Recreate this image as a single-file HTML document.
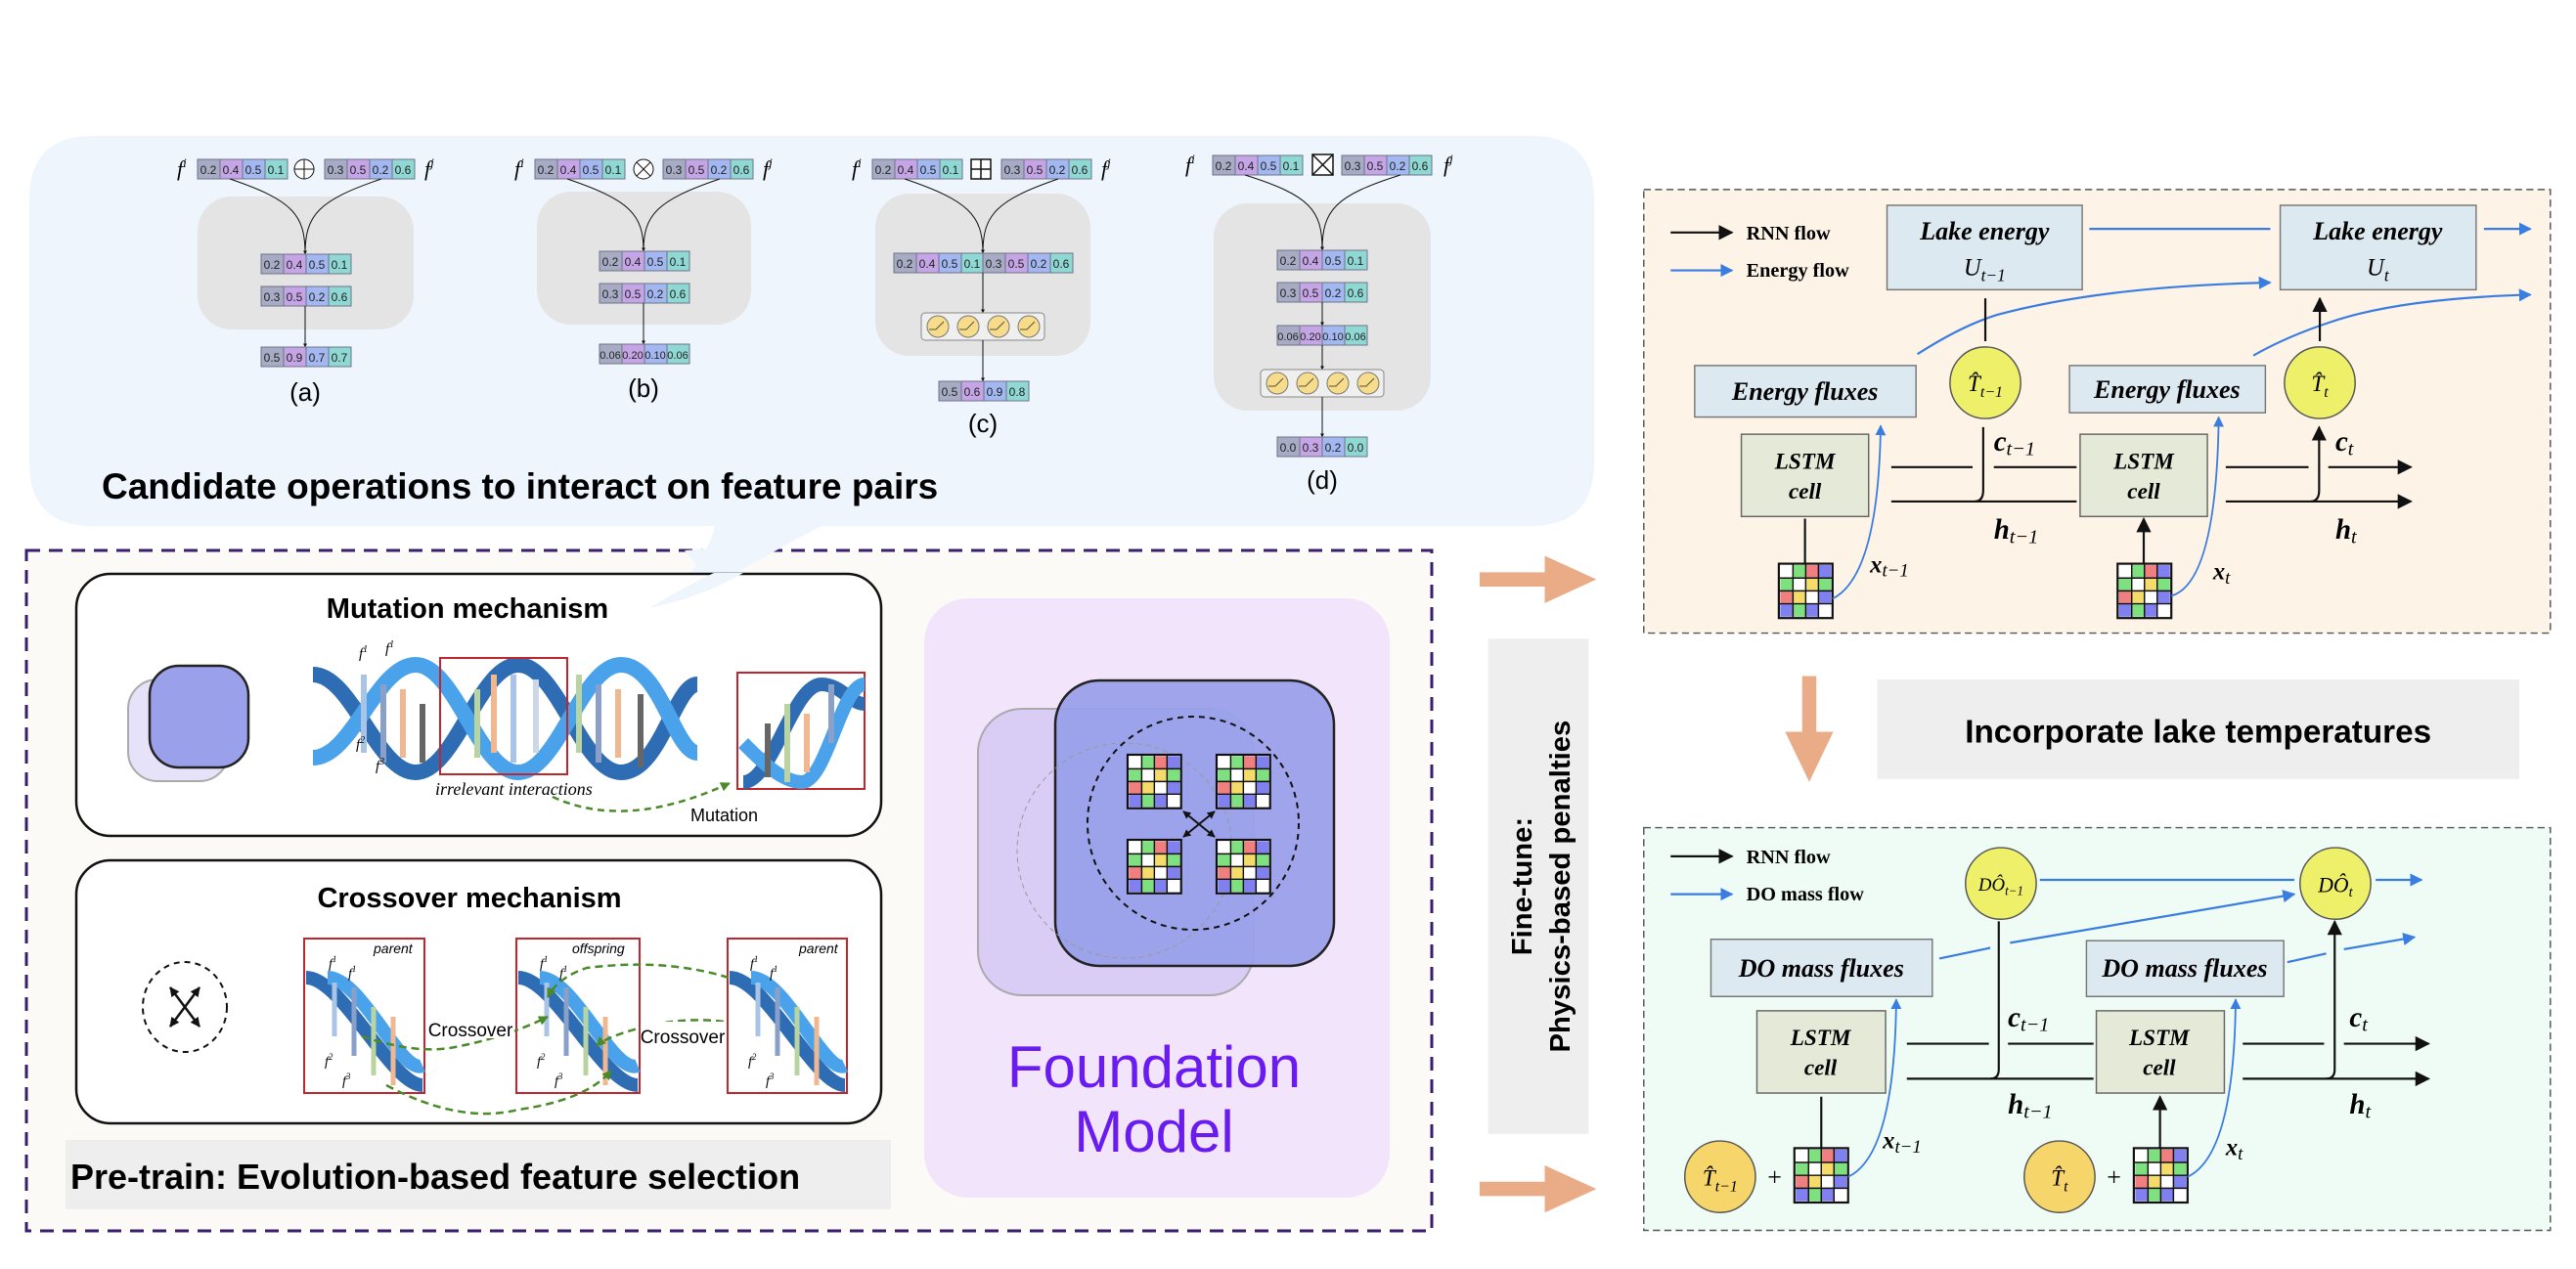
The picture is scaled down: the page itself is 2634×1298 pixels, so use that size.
<!DOCTYPE html>
<html><head><meta charset="utf-8"><style>
html,body{margin:0;padding:0;background:#fff}
svg{display:block}
.n{font-family:"Liberation Sans",sans-serif;font-size:12px;text-anchor:middle;fill:#222}
.s{font-family:"Liberation Serif",serif;font-style:italic}
.b{font-family:"Liberation Sans",sans-serif;font-weight:bold}
.sb{font-family:"Liberation Serif",serif;font-weight:bold;font-style:italic}
</style></head><body>
<svg width="2634" height="1298" viewBox="0 0 2634 1298" xmlns="http://www.w3.org/2000/svg">
<defs>
<g id="v4">
<rect x="0" y="0" width="23" height="20" fill="#a7abc3" stroke="#6f7388"/>
<rect x="23" y="0" width="23" height="20" fill="#c5a5e5" stroke="#6f7388"/>
<rect x="46" y="0" width="23" height="20" fill="#a3b7f0" stroke="#6f7388"/>
<rect x="69" y="0" width="23" height="20" fill="#8fd8d3" stroke="#6f7388"/>
</g>
<g id="act">
<rect x="0" y="0" width="126" height="28" rx="4" fill="#efefef" stroke="#888"/>
<g fill="#f7dc8c" stroke="#777"><circle cx="17" cy="14" r="11"/><circle cx="48" cy="14" r="11"/><circle cx="79" cy="14" r="11"/><circle cx="110" cy="14" r="11"/></g>
<g fill="none" stroke="#553"><path d="M8,17 h7 l8,-8"/><path d="M39,17 h7 l8,-8"/><path d="M70,17 h7 l8,-8"/><path d="M101,17 h7 l8,-8"/></g>
</g>
<g id="grid">
<rect x="0" y="0" width="76" height="76" fill="#fff" stroke="#111" stroke-width="3"/>
<rect x="2" y="2" width="18" height="18" fill="#fff"/><rect x="20" y="2" width="18" height="18" fill="#7ee07e"/><rect x="38" y="2" width="18" height="18" fill="#f08080"/><rect x="56" y="2" width="18" height="18" fill="#8080f0"/>
<rect x="2" y="20" width="18" height="18" fill="#7ee07e"/><rect x="20" y="20" width="18" height="18" fill="#fff"/><rect x="38" y="20" width="18" height="18" fill="#f5dc6a"/><rect x="56" y="20" width="18" height="18" fill="#7ee07e"/>
<rect x="2" y="38" width="18" height="18" fill="#f08080"/><rect x="20" y="38" width="18" height="18" fill="#f5dc6a"/><rect x="38" y="38" width="18" height="18" fill="#fff"/><rect x="56" y="38" width="18" height="18" fill="#8080f0"/>
<rect x="2" y="56" width="18" height="18" fill="#8080f0"/><rect x="20" y="56" width="18" height="18" fill="#7ee07e"/><rect x="38" y="56" width="18" height="18" fill="#8080f0"/><rect x="56" y="56" width="18" height="18" fill="#fff"/>
<path d="M20,0V76M38,0V76M56,0V76M0,20H76M0,38H76M0,56H76" stroke="#111" stroke-width="2"/>
</g>
<marker id="ak" viewBox="0 0 10 10" refX="9" refY="5" markerWidth="7" markerHeight="7" orient="auto"><path d="M0,0L10,5L0,10z" fill="#111"/></marker>
<marker id="as" viewBox="0 0 10 10" refX="9" refY="5" markerWidth="4" markerHeight="4" orient="auto-start-reverse"><path d="M0,0L10,5L0,10z" fill="#111"/></marker>
<marker id="ab" viewBox="0 0 10 10" refX="9" refY="5" markerWidth="6" markerHeight="6" orient="auto"><path d="M0,0L10,5L0,10z" fill="#3a7de0"/></marker>
<marker id="ag" viewBox="0 0 10 10" refX="9" refY="5" markerWidth="4" markerHeight="4" orient="auto"><path d="M0,0L10,5L0,10z" fill="#4a8a2a"/></marker>
</defs>

<path d="M95,139 H1565 Q1630,139 1630,204 V473 Q1630,538 1565,538 H840 Q760,580 664,622 Q720,585 731,538 H95 Q30,538 30,473 V204 Q30,139 95,139 Z" fill="#eef5fd"/>

<!-- (a) -->
<rect x="202" y="201" width="221" height="136" rx="35" fill="#e4e4e4"/>
<text x="181" y="180" class="s" font-size="22">f<tspan font-size="13" dy="-9">i</tspan></text>
<use href="#v4" x="202" y="163"/><g class="n"><text x="213" y="178">0.2</text><text x="236" y="178">0.4</text><text x="259" y="178">0.5</text><text x="282" y="178">0.1</text></g>
<circle cx="311" cy="173" r="10" fill="#fff" stroke="#111"/><path d="M301,173H321M311,163V183" stroke="#111"/>
<use href="#v4" x="332" y="163"/><g class="n"><text x="343" y="178">0.3</text><text x="366" y="178">0.5</text><text x="389" y="178">0.2</text><text x="412" y="178">0.6</text></g>
<text x="434" y="180" class="s" font-size="22">f<tspan font-size="13" dy="-9">j</tspan></text>
<path d="M235,183 C300,205 312,220 312,260 M390,183 C325,205 312,220 312,260" fill="none" stroke="#111" marker-end="url(#as)"/>
<use href="#v4" x="267" y="260"/><g class="n"><text x="278" y="275">0.2</text><text x="301" y="275">0.4</text><text x="324" y="275">0.5</text><text x="347" y="275">0.1</text></g>
<use href="#v4" x="267" y="293"/><g class="n"><text x="278" y="308">0.3</text><text x="301" y="308">0.5</text><text x="324" y="308">0.2</text><text x="347" y="308">0.6</text></g>
<path d="M312,313V355" stroke="#111" marker-end="url(#as)"/>
<use href="#v4" x="267" y="355"/><g class="n"><text x="278" y="370">0.5</text><text x="301" y="370">0.9</text><text x="324" y="370">0.7</text><text x="347" y="370">0.7</text></g>
<text x="312" y="410" font-family="Liberation Sans,sans-serif" font-size="26" text-anchor="middle">(a)</text>

<!-- (b) -->
<rect x="549" y="196" width="219" height="136" rx="35" fill="#e4e4e4"/>
<text x="526" y="180" class="s" font-size="22">f<tspan font-size="13" dy="-9">i</tspan></text>
<use href="#v4" x="547" y="163"/><g class="n"><text x="558" y="178">0.2</text><text x="581" y="178">0.4</text><text x="604" y="178">0.5</text><text x="627" y="178">0.1</text></g>
<circle cx="658" cy="173" r="10" fill="#fff" stroke="#111"/><path d="M651,166L665,180M665,166L651,180" stroke="#111"/>
<use href="#v4" x="678" y="163"/><g class="n"><text x="689" y="178">0.3</text><text x="712" y="178">0.5</text><text x="735" y="178">0.2</text><text x="758" y="178">0.6</text></g>
<text x="780" y="180" class="s" font-size="22">f<tspan font-size="13" dy="-9">j</tspan></text>
<path d="M580,183 C645,205 658,220 658,257 M736,183 C671,205 658,220 658,257" fill="none" stroke="#111" marker-end="url(#as)"/>
<use href="#v4" x="613" y="257"/><g class="n"><text x="624" y="272">0.2</text><text x="647" y="272">0.4</text><text x="670" y="272">0.5</text><text x="693" y="272">0.1</text></g>
<use href="#v4" x="613" y="290"/><g class="n"><text x="624" y="305">0.3</text><text x="647" y="305">0.5</text><text x="670" y="305">0.2</text><text x="693" y="305">0.6</text></g>
<path d="M658,310V352" stroke="#111" marker-end="url(#as)"/>
<use href="#v4" x="613" y="352"/><g class="n"><text x="624" y="367" font-size="11">0.06</text><text x="647" y="367" font-size="11">0.20</text><text x="670" y="367" font-size="11">0.10</text><text x="693" y="367" font-size="11">0.06</text></g>
<text x="658" y="406" font-family="Liberation Sans,sans-serif" font-size="26" text-anchor="middle">(b)</text>

<!-- (c) -->
<rect x="895" y="198" width="220" height="166" rx="35" fill="#e4e4e4"/>
<text x="871" y="180" class="s" font-size="22">f<tspan font-size="13" dy="-9">i</tspan></text>
<use href="#v4" x="892" y="163"/><g class="n"><text x="903" y="178">0.2</text><text x="926" y="178">0.4</text><text x="949" y="178">0.5</text><text x="972" y="178">0.1</text></g>
<rect x="993" y="163" width="20" height="20" fill="#fff" stroke="#111" stroke-width="1.5"/><path d="M993,173H1013M1003,163V183" stroke="#111" stroke-width="1.5"/>
<use href="#v4" x="1024" y="163"/><g class="n"><text x="1035" y="178">0.3</text><text x="1058" y="178">0.5</text><text x="1081" y="178">0.2</text><text x="1104" y="178">0.6</text></g>
<text x="1126" y="180" class="s" font-size="22">f<tspan font-size="13" dy="-9">j</tspan></text>
<path d="M925,183 C990,205 1005,220 1005,259 M1082,183 C1018,205 1005,220 1005,259" fill="none" stroke="#111" marker-end="url(#as)"/>
<use href="#v4" x="914" y="259"/><use href="#v4" x="1005" y="259"/>
<g class="n"><text x="925" y="274">0.2</text><text x="948" y="274">0.4</text><text x="971" y="274">0.5</text><text x="994" y="274">0.1</text><text x="1016" y="274">0.3</text><text x="1039" y="274">0.5</text><text x="1062" y="274">0.2</text><text x="1085" y="274">0.6</text></g>
<path d="M1005,279V320" stroke="#111" marker-end="url(#as)"/>
<use href="#act" x="942" y="320"/>
<path d="M1005,348V390" stroke="#111" marker-end="url(#as)"/>
<use href="#v4" x="960" y="390"/><g class="n"><text x="971" y="405">0.5</text><text x="994" y="405">0.6</text><text x="1017" y="405">0.9</text><text x="1040" y="405">0.8</text></g>
<text x="1005" y="442" font-family="Liberation Sans,sans-serif" font-size="26" text-anchor="middle">(c)</text>

<!-- (d) -->
<rect x="1241" y="208" width="222" height="212" rx="35" fill="#e4e4e4"/>
<text x="1212" y="176" class="s" font-size="22">f<tspan font-size="13" dy="-9">i</tspan></text>
<use href="#v4" x="1240" y="159"/><g class="n"><text x="1251" y="174">0.2</text><text x="1274" y="174">0.4</text><text x="1297" y="174">0.5</text><text x="1320" y="174">0.1</text></g>
<rect x="1342" y="158" width="21" height="21" fill="#fff" stroke="#111" stroke-width="1.5"/><path d="M1342,158L1363,179M1363,158L1342,179" stroke="#111" stroke-width="1.5"/>
<use href="#v4" x="1372" y="159"/><g class="n"><text x="1383" y="174">0.3</text><text x="1406" y="174">0.5</text><text x="1429" y="174">0.2</text><text x="1452" y="174">0.6</text></g>
<text x="1476" y="176" class="s" font-size="22">f<tspan font-size="13" dy="-9">j</tspan></text>
<path d="M1273,179 C1340,200 1352,215 1352,256 M1432,179 C1365,200 1352,215 1352,256" fill="none" stroke="#111" marker-end="url(#as)"/>
<use href="#v4" x="1306" y="256"/><g class="n"><text x="1317" y="271">0.2</text><text x="1340" y="271">0.4</text><text x="1363" y="271">0.5</text><text x="1386" y="271">0.1</text></g>
<use href="#v4" x="1306" y="289"/><g class="n"><text x="1317" y="304">0.3</text><text x="1340" y="304">0.5</text><text x="1363" y="304">0.2</text><text x="1386" y="304">0.6</text></g>
<path d="M1352,309V333" stroke="#111" marker-end="url(#as)"/>
<use href="#v4" x="1306" y="333"/><g class="n"><text x="1317" y="348" font-size="11">0.06</text><text x="1340" y="348" font-size="11">0.20</text><text x="1363" y="348" font-size="11">0.10</text><text x="1386" y="348" font-size="11">0.06</text></g>
<path d="M1352,353V378" stroke="#111" marker-end="url(#as)"/>
<use href="#act" x="1289" y="378"/>
<path d="M1352,406V447" stroke="#111" marker-end="url(#as)"/>
<use href="#v4" x="1306" y="447"/><g class="n"><text x="1317" y="462">0.0</text><text x="1340" y="462">0.3</text><text x="1363" y="462">0.2</text><text x="1386" y="462">0.0</text></g>
<text x="1352" y="500" font-family="Liberation Sans,sans-serif" font-size="26" text-anchor="middle">(d)</text>

<text x="104" y="510" class="b" font-size="37">Candidate operations to interact on feature pairs</text>

<rect x="27" y="563" width="1437" height="696" fill="#fbfaf6" stroke="#3a1e6e" stroke-width="3" stroke-dasharray="14,9"/>
<path d="M731,538 Q720,585 664,622 Q760,580 840,538 Z" fill="#eef5fd"/>
<path d="M700,563 Q760,560 800,540 L840,538 Q770,575 730,600 Z" fill="#eef5fd"/>

<rect x="78" y="587" width="823" height="268" rx="35" fill="#fff" stroke="#111" stroke-width="2.5"/>
<path d="M760,586 Q720,610 664,622 Q700,600 730,586 Z" fill="#eef5fd"/>
<text x="478" y="632" class="b" font-size="29" text-anchor="middle">Mutation mechanism</text>
<rect x="131" y="695" width="103" height="104" rx="30" fill="#e6e2fa" stroke="#aaa" stroke-width="2"/>
<rect x="153" y="681" width="101" height="104" rx="30" fill="#9aa0ea" stroke="#222" stroke-width="2.5"/>
<g fill="none" stroke-width="16">
<path d="M320,690 C360,690 385,790 425,790 C465,790 490,680 530,680 C570,680 595,790 635,790 C675,790 690,700 713,700" stroke="#2e6cb3"/>
<path d="M320,775 C360,775 385,680 425,680 C465,680 490,790 530,790 C570,790 595,680 635,680 C675,680 690,770 713,770" stroke="#4aa3ea"/>
</g>
<g stroke-width="6">
<path d="M372,690V770" stroke="#a9c4e6"/><path d="M392,700V780" stroke="#8aa0c8"/><path d="M412,705V775" stroke="#f0b890"/><path d="M432,720V780" stroke="#666"/>
<path d="M488,705V775" stroke="#b9d4a0"/><path d="M505,690V770" stroke="#f0b890"/><path d="M525,690V780" stroke="#a9c4e6"/><path d="M548,695V770" stroke="#ccd8ea"/>
<path d="M592,690V770" stroke="#b9d4a0"/><path d="M612,700V780" stroke="#8aa0c8"/><path d="M632,705V775" stroke="#f0b890"/><path d="M655,710V785" stroke="#666"/>
</g>
<rect x="450" y="673" width="130" height="119" fill="none" stroke="#c0262d" stroke-width="2"/>
<text x="367" y="673" class="s" font-size="15">f<tspan font-size="10" dy="-6">1</tspan></text><text x="394" y="668" class="s" font-size="15">f<tspan font-size="10" dy="-6">1</tspan></text>
<text x="364" y="766" class="s" font-size="15">f<tspan font-size="10" dy="-6">2</tspan></text><text x="384" y="788" class="s" font-size="15">f<tspan font-size="10" dy="-6">3</tspan></text>
<rect x="754" y="688" width="130" height="119" fill="#fff" stroke="#c0262d" stroke-width="2"/>
<g fill="none" stroke-width="14">
<path d="M760,800 C790,800 810,700 840,700 C860,700 870,720 884,720" stroke="#2e6cb3"/>
<path d="M760,760 C780,780 800,800 820,800 C845,800 860,700 884,700" stroke="#4aa3ea"/>
</g>
<g stroke-width="6"><path d="M785,740V795" stroke="#666"/><path d="M805,720V800" stroke="#b9d4a0"/><path d="M825,730V790" stroke="#f0b890"/><path d="M850,700V760" stroke="#8aa0c8"/></g>
<text x="445" y="813" class="s" font-size="18" font-family="Liberation Sans,sans-serif">irrelevant interactions</text>
<path d="M565,815 Q640,850 746,801" fill="none" stroke="#4a8a2a" stroke-width="2.5" stroke-dasharray="7,5" marker-end="url(#ag)"/>
<text x="706" y="840" font-family="Liberation Sans,sans-serif" font-size="18">Mutation</text>

<rect x="78" y="880" width="823" height="269" rx="35" fill="#fff" stroke="#111" stroke-width="2.5"/>
<text x="480" y="928" class="b" font-size="29" text-anchor="middle">Crossover mechanism</text>
<ellipse cx="189" cy="1030" rx="43" ry="46" fill="none" stroke="#111" stroke-width="2" stroke-dasharray="6,5"/>
<path d="M174,1010L204,1050" stroke="#111" stroke-width="2.5" marker-end="url(#as)" marker-start="url(#as)"/>
<path d="M204,1010L174,1050" stroke="#111" stroke-width="2.5" marker-end="url(#as)" marker-start="url(#as)"/>
<g>
<rect x="311" y="960" width="123" height="158" fill="#fff" stroke="#c0262d" stroke-width="2"/>
<rect x="528" y="960" width="126" height="158" fill="#fff" stroke="#c0262d" stroke-width="2"/>
<rect x="744" y="960" width="122" height="158" fill="#fff" stroke="#c0262d" stroke-width="2"/>
<g fill="none" stroke-width="14">
<path d="M313,1000 C350,1000 400,1110 432,1110" stroke="#2e6cb3"/><path d="M335,1000 C370,1000 410,1100 432,1090" stroke="#4aa3ea"/>
<path d="M530,1000 C567,1000 617,1110 652,1110" stroke="#2e6cb3"/><path d="M552,1000 C587,1000 627,1100 652,1090" stroke="#4aa3ea"/>
<path d="M746,1000 C783,1000 833,1110 864,1110" stroke="#2e6cb3"/><path d="M768,1000 C803,1000 843,1100 864,1090" stroke="#4aa3ea"/>
</g>
<g stroke-width="5"><path d="M342,1005V1060" stroke="#a9c4e6"/><path d="M362,1010V1080" stroke="#8aa0c8"/><path d="M382,1030V1100" stroke="#b9d4a0"/><path d="M402,1040V1110" stroke="#f0b890"/>
<path d="M559,1005V1060" stroke="#a9c4e6"/><path d="M579,1010V1080" stroke="#8aa0c8"/><path d="M599,1030V1100" stroke="#b9d4a0"/><path d="M619,1040V1110" stroke="#f0b890"/>
<path d="M775,1005V1060" stroke="#a9c4e6"/><path d="M795,1010V1080" stroke="#8aa0c8"/><path d="M815,1030V1100" stroke="#b9d4a0"/><path d="M835,1040V1110" stroke="#f0b890"/></g>
<g font-family="Liberation Sans,sans-serif" font-style="italic" font-size="14"><text x="382" y="975">parent</text><text x="585" y="975">offspring</text><text x="817" y="975">parent</text></g>
<g class="s" font-size="14"><text x="336" y="990">f<tspan font-size="9" dy="-6">1</tspan></text><text x="356" y="1000">f<tspan font-size="9" dy="-6">1</tspan></text><text x="552" y="990">f<tspan font-size="9" dy="-6">1</tspan></text><text x="572" y="1000">f<tspan font-size="9" dy="-6">1</tspan></text><text x="767" y="990">f<tspan font-size="9" dy="-6">1</tspan></text><text x="787" y="1000">f<tspan font-size="9" dy="-6">1</tspan></text>
<text x="332" y="1090">f<tspan font-size="9" dy="-6">2</tspan></text><text x="350" y="1110">f<tspan font-size="9" dy="-6">3</tspan></text><text x="549" y="1090">f<tspan font-size="9" dy="-6">2</tspan></text><text x="567" y="1110">f<tspan font-size="9" dy="-6">3</tspan></text><text x="765" y="1090">f<tspan font-size="9" dy="-6">2</tspan></text><text x="783" y="1110">f<tspan font-size="9" dy="-6">3</tspan></text></g>
<g fill="none" stroke="#4a8a2a" stroke-width="2.5" stroke-dasharray="8,5">
<path d="M370,1060 Q430,1080 470,1070 Q520,1060 560,1040" marker-end="url(#ag)"/>
<path d="M395,1110 Q470,1150 530,1135 Q600,1125 625,1095" marker-end="url(#ag)"/>
<path d="M745,1000 Q680,980 600,990 Q570,1000 560,1020" marker-end="url(#ag)"/>
<path d="M740,1045 Q700,1040 660,1050 Q620,1060 610,1070" marker-end="url(#ag)"/>
</g>
<rect x="438" y="1038" width="88" height="24" fill="#fff"/><rect x="655" y="1045" width="86" height="24" fill="#fff"/>
<text x="481" y="1060" font-family="Liberation Sans,sans-serif" font-size="19" text-anchor="middle">Crossover</text>
<text x="698" y="1067" font-family="Liberation Sans,sans-serif" font-size="19" text-anchor="middle">Crossover</text>
</g>

<rect x="67" y="1166" width="844" height="71" fill="#eeeeee"/>
<text x="72" y="1216" class="b" font-size="36">Pre-train: Evolution-based feature selection</text>

<rect x="945" y="612" width="476" height="613" rx="45" fill="#f1e4fb"/>
<rect x="1000" y="725" width="282" height="293" rx="45" fill="#d9ccf5" stroke="#aaa" stroke-width="2"/>
<rect x="1079" y="696" width="285" height="292" rx="45" fill="#9aa0ea" stroke="#222" stroke-width="2.5" fill-opacity="0.95"/>
<ellipse cx="1150" cy="870" rx="110" ry="110" fill="none" stroke="#999" stroke-dasharray="5,4"/>
<ellipse cx="1220" cy="842" rx="108" ry="109" fill="none" stroke="#111" stroke-width="2" stroke-dasharray="6,5"/>
<use href="#grid" x="0" y="0" transform="translate(1153,772) scale(0.72)"/>
<use href="#grid" x="0" y="0" transform="translate(1244,772) scale(0.72)"/>
<use href="#grid" x="0" y="0" transform="translate(1153,859) scale(0.72)"/>
<use href="#grid" x="0" y="0" transform="translate(1244,859) scale(0.72)"/>
<path d="M1210,830L1242,856" stroke="#111" stroke-width="2" marker-end="url(#as)" marker-start="url(#as)"/>
<path d="M1242,830L1210,856" stroke="#111" stroke-width="2" marker-end="url(#as)" marker-start="url(#as)"/>
<text x="1180" y="1112" font-family="Liberation Sans,sans-serif" font-size="60" fill="#6a1bf0" text-anchor="middle">Foundation</text>
<text x="1180" y="1178" font-family="Liberation Sans,sans-serif" font-size="60" fill="#6a1bf0" text-anchor="middle">Model</text>

<g transform="translate(1500,150) scale(0.7231,0.7317)">
<path d="M18,595 H110 V572 L183,605 L110,638 V615 H18 Z" fill="#e9ac86"/>
<path d="M18,1447 H110 V1424 L183,1457 L110,1490 V1467 H18 Z" fill="#e9ac86"/>
<path d="M474,740 H494 V818 H518 L484,888 L450,818 H474 Z" fill="#e9ac86"/>
<rect x="30" y="688" width="142" height="692" fill="#eeeeee"/>
<g transform="translate(101,1034) rotate(-90)"><text x="0" y="-10" class="b" font-size="40" text-anchor="middle">Fine-tune:</text><text x="0" y="44" class="b" font-size="40" text-anchor="middle">Physics-based penalties</text></g>
<rect x="580" y="745" width="908" height="139" fill="#eeeeee"/>
<text x="1034" y="833" class="b" font-size="46" text-anchor="middle">Incorporate lake temperatures</text>

<rect x="250" y="60" width="1282" height="620" fill="#fdf3e7" stroke="#555" stroke-width="2" stroke-dasharray="10,6"/>
<path d="M288,120H375" stroke="#111" stroke-width="3" marker-end="url(#ak)"/>
<path d="M288,173H375" stroke="#3a7de0" stroke-width="3" marker-end="url(#ab)"/>
<text x="395" y="130" font-family="Liberation Serif,serif" font-weight="bold" font-size="28">RNN flow</text>
<text x="395" y="182" font-family="Liberation Serif,serif" font-weight="bold" font-size="28">Energy flow</text>
<rect x="594" y="82" width="276" height="118" fill="#dde9f0" stroke="#777" stroke-width="2"/>
<rect x="1150" y="82" width="277" height="118" fill="#dde9f0" stroke="#777" stroke-width="2"/>
<text x="732" y="130" class="sb" font-size="36" text-anchor="middle">Lake energy</text>
<text x="732" y="180" class="s" font-size="34" text-anchor="middle">U<tspan font-size="24" dy="8">t−1</tspan></text>
<text x="1288" y="130" class="sb" font-size="36" text-anchor="middle">Lake energy</text>
<text x="1288" y="180" class="s" font-size="34" text-anchor="middle">U<tspan font-size="24" dy="8">t</tspan></text>
<path d="M880,115H1136M1438,115H1504" stroke="#3a7de0" stroke-width="3" marker-end="url(#ab)"/>
<path d="M637,290 Q700,250 750,235 Q900,195 1136,190" fill="none" stroke="#3a7de0" stroke-width="3" marker-end="url(#ab)"/>
<path d="M1112,292 Q1160,265 1222,245 Q1320,212 1504,207" fill="none" stroke="#3a7de0" stroke-width="3" marker-end="url(#ab)"/>
<rect x="322" y="306" width="313" height="72" fill="#dde9f0" stroke="#777" stroke-width="2"/>
<rect x="852" y="306" width="277" height="66" fill="#dde9f0" stroke="#777" stroke-width="2"/>
<text x="478" y="354" class="sb" font-size="36" text-anchor="middle">Energy fluxes</text>
<text x="990" y="351" class="sb" font-size="36" text-anchor="middle">Energy fluxes</text>
<circle cx="733" cy="330" r="50" fill="#eef06a" stroke="#555" stroke-width="2"/>
<circle cx="1206" cy="330" r="50" fill="#eef06a" stroke="#555" stroke-width="2"/>
<text x="733" y="342" class="s" font-size="32" text-anchor="middle">T̂<tspan font-size="22" dy="8">t−1</tspan></text>
<text x="1206" y="342" class="s" font-size="32" text-anchor="middle">T̂<tspan font-size="22" dy="8">t</tspan></text>
<path d="M733,272V212M1206,272V212" stroke="#111" stroke-width="3" marker-end="url(#ak)"/>
<rect x="388" y="402" width="180" height="115" fill="#e5ead8" stroke="#666" stroke-width="2"/>
<rect x="867" y="402" width="180" height="115" fill="#e5ead8" stroke="#666" stroke-width="2"/>
<g class="sb" font-size="32" text-anchor="middle"><text x="478" y="450">LSTM</text><text x="478" y="492">cell</text><text x="957" y="450">LSTM</text><text x="957" y="492">cell</text></g>
<g stroke="#111" stroke-width="3" fill="none">
<path d="M600,448H715M1073,448H1190"/>
<path d="M745,448H862M1218,448H1335" marker-end="url(#ak)"/>
<path d="M600,496H862M1073,496H1335" marker-end="url(#ak)"/>
<path d="M718,496Q730,496 730,480V392M1193,496Q1205,496 1205,480V392" marker-end="url(#ak)"/>
<path d="M478,583V520M957,583V520" marker-end="url(#ak)"/>
</g>
<g class="sb" font-size="40"><text x="745" y="425">c<tspan font-size="28" dy="6" font-weight="normal">t−1</tspan></text><text x="1228" y="425">c<tspan font-size="28" dy="6" font-weight="normal">t</tspan></text>
<text x="745" y="548">h<tspan font-size="28" dy="6" font-weight="normal">t−1</tspan></text><text x="1228" y="548">h<tspan font-size="28" dy="6" font-weight="normal">t</tspan></text>
<text x="570" y="595" font-size="34">x<tspan font-size="26" dy="6" font-weight="normal">t−1</tspan></text><text x="1055" y="605" font-size="34">x<tspan font-size="26" dy="6" font-weight="normal">t</tspan></text></g>
<use href="#grid" x="441" y="583"/><use href="#grid" x="920" y="583"/>
<path d="M517,632 Q582,600 585,390" fill="none" stroke="#3a7de0" stroke-width="2.5" marker-end="url(#ab)"/>
<path d="M996,628 Q1060,610 1063,378" fill="none" stroke="#3a7de0" stroke-width="2.5" marker-end="url(#ab)"/>

<rect x="250" y="952" width="1282" height="563" fill="#effbf5" stroke="#555" stroke-width="2" stroke-dasharray="10,6"/>
<path d="M288,992H375" stroke="#111" stroke-width="3" marker-end="url(#ak)"/>
<path d="M288,1045H375" stroke="#3a7de0" stroke-width="3" marker-end="url(#ab)"/>
<text x="395" y="1002" font-family="Liberation Serif,serif" font-weight="bold" font-size="28">RNN flow</text>
<text x="395" y="1054" font-family="Liberation Serif,serif" font-weight="bold" font-size="28">DO mass flow</text>
<path d="M810,1025H1170M1285,1025H1350" stroke="#3a7de0" stroke-width="3" marker-end="url(#ab)"/>
<path d="M668,1135L740,1120M768,1113L1170,1045" stroke="#3a7de0" stroke-width="3" marker-end="url(#ab)"/>
<path d="M1160,1140L1215,1128M1240,1122L1340,1105" stroke="#3a7de0" stroke-width="3" marker-end="url(#ab)"/>
<circle cx="755" cy="1030" r="50" fill="#eef06a" stroke="#555" stroke-width="2"/>
<circle cx="1228" cy="1030" r="50" fill="#eef06a" stroke="#555" stroke-width="2"/>
<text x="755" y="1040" class="s" font-size="26" text-anchor="middle">DÔ<tspan font-size="18" dy="6">t−1</tspan></text>
<text x="1228" y="1042" class="s" font-size="30" text-anchor="middle">DÔ<tspan font-size="20" dy="6">t</tspan></text>
<rect x="345" y="1108" width="313" height="80" fill="#dde9f0" stroke="#777" stroke-width="2"/>
<rect x="876" y="1110" width="279" height="78" fill="#dde9f0" stroke="#777" stroke-width="2"/>
<text x="501" y="1160" class="sb" font-size="36" text-anchor="middle">DO mass fluxes</text>
<text x="1015" y="1160" class="sb" font-size="36" text-anchor="middle">DO mass fluxes</text>
<rect x="410" y="1208" width="182" height="115" fill="#e5ead8" stroke="#666" stroke-width="2"/>
<rect x="890" y="1208" width="181" height="115" fill="#e5ead8" stroke="#666" stroke-width="2"/>
<g class="sb" font-size="32" text-anchor="middle"><text x="500" y="1256">LSTM</text><text x="500" y="1298">cell</text><text x="979" y="1256">LSTM</text><text x="979" y="1298">cell</text></g>
<g stroke="#111" stroke-width="3" fill="none">
<path d="M622,1254H738M1097,1254H1212"/>
<path d="M765,1254H886M1240,1254H1360" marker-end="url(#ak)"/>
<path d="M622,1303H886M1097,1303H1360" marker-end="url(#ak)"/>
<path d="M740,1303Q752,1303 752,1290V1083M1215,1303Q1227,1303 1227,1290V1083" marker-end="url(#ak)"/>
<path d="M501,1400V1328M980,1400V1328" marker-end="url(#ak)"/>
</g>
<g class="sb" font-size="40"><text x="765" y="1230">c<tspan font-size="28" dy="6" font-weight="normal">t−1</tspan></text><text x="1248" y="1230">c<tspan font-size="28" dy="6" font-weight="normal">t</tspan></text>
<text x="765" y="1352">h<tspan font-size="28" dy="6" font-weight="normal">t−1</tspan></text><text x="1248" y="1352">h<tspan font-size="28" dy="6" font-weight="normal">t</tspan></text>
<text x="588" y="1400" font-size="34">x<tspan font-size="26" dy="6" font-weight="normal">t−1</tspan></text><text x="1073" y="1410" font-size="34">x<tspan font-size="26" dy="6" font-weight="normal">t</tspan></text></g>
<circle cx="358" cy="1440" r="50" fill="#f6d56b" stroke="#555" stroke-width="2"/>
<circle cx="838" cy="1440" r="50" fill="#f6d56b" stroke="#555" stroke-width="2"/>
<text x="358" y="1452" class="s" font-size="32" text-anchor="middle">T̂<tspan font-size="22" dy="8">t−1</tspan></text>
<text x="838" y="1452" class="s" font-size="32" text-anchor="middle">T̂<tspan font-size="22" dy="8">t</tspan></text>
<text x="435" y="1452" font-family="Liberation Serif,serif" font-size="36" text-anchor="middle">+</text>
<text x="915" y="1452" font-family="Liberation Serif,serif" font-size="36" text-anchor="middle">+</text>
<use href="#grid" x="463" y="1400"/><use href="#grid" x="943" y="1400"/>
<path d="M539,1440 Q605,1410 607,1192" fill="none" stroke="#3a7de0" stroke-width="2.5" marker-end="url(#ab)"/>
<path d="M1019,1440 Q1085,1410 1087,1192" fill="none" stroke="#3a7de0" stroke-width="2.5" marker-end="url(#ab)"/>
</g>
</svg>
</body></html>
